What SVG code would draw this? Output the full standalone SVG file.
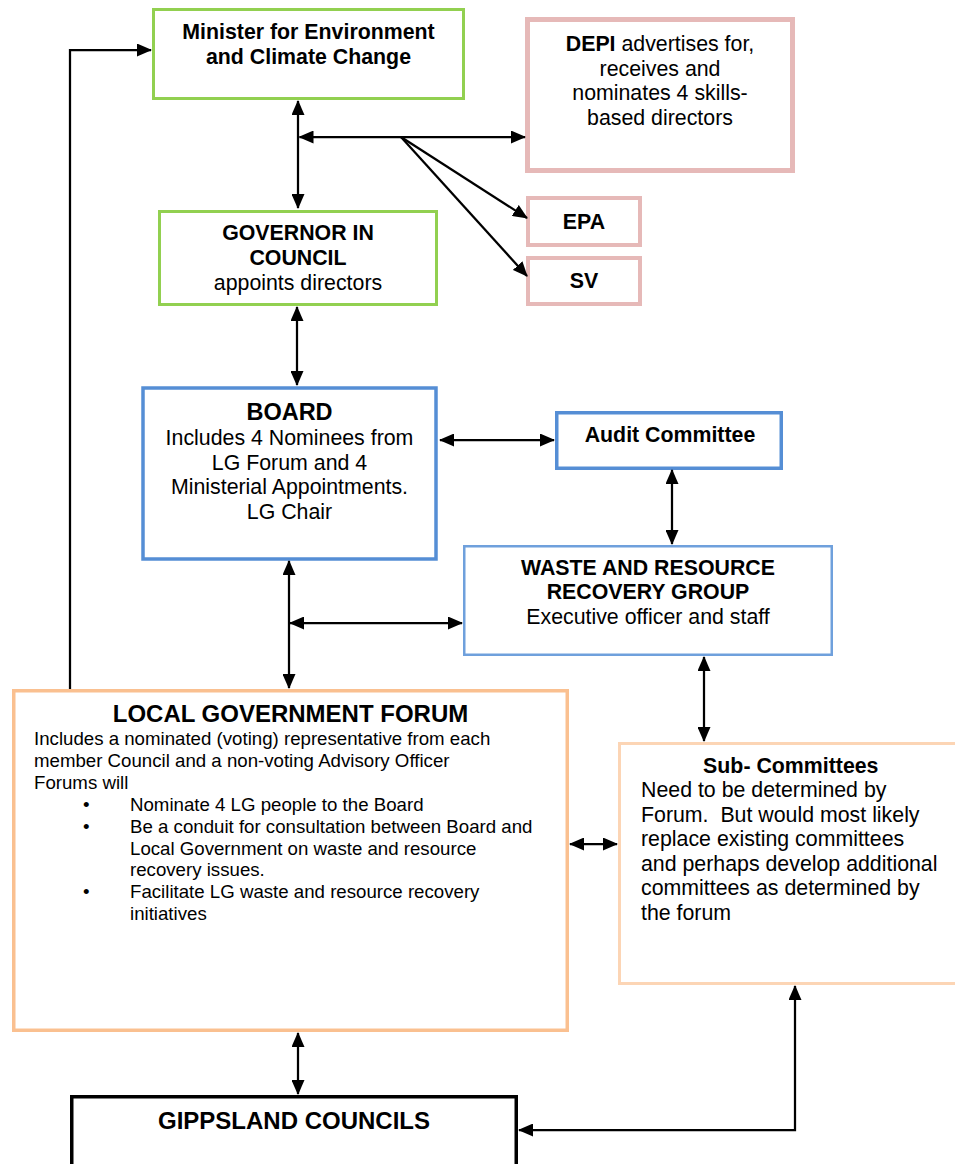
<svg xmlns="http://www.w3.org/2000/svg" width="955" height="1164" viewBox="0 0 955 1164">
<style>
text{font-family:"Liberation Sans",Arial,sans-serif;font-size:21.33px;fill:#000}
.b{font-weight:bold}
.c{text-anchor:middle}
.s{font-size:18.67px}
.box{fill:#fff}
.con{fill:none;stroke:#000;stroke-width:2.25}
</style>
<defs>
<marker id="ah" markerUnits="userSpaceOnUse" markerWidth="15" markerHeight="13" refX="14" refY="6.5" orient="auto-start-reverse">
<path d="M0,0 L15,6.5 L0,13 z" fill="#000"/>
</marker>
</defs>
<rect width="955" height="1164" fill="#fff"/>

<g id="minister">
<rect class="box" x="153.5" y="9.5" width="310" height="89" stroke="#92D050" stroke-width="3"/>
<text class="b c" x="308.5" y="39">Minister for Environment</text>
<text class="b c" x="308.5" y="64">and Climate Change</text>
</g>
<g id="depi">
<rect class="box" x="527.5" y="19.5" width="265" height="151" stroke="#E6B9B8" stroke-width="5"/>
<text class="c" x="660" y="51"><tspan class="b">DEPI</tspan> advertises for,</text>
<text class="c" x="660" y="75.5">receives and</text>
<text class="c" x="660" y="100">nominates 4 skills-</text>
<text class="c" x="660" y="124.5">based directors</text>
</g>
<g id="epa">
<rect class="box" x="528" y="198" width="112" height="47" stroke="#E6B9B8" stroke-width="4"/>
<text class="b c" x="584" y="229">EPA</text>
</g>
<g id="sv">
<rect class="box" x="528" y="258" width="112" height="46" stroke="#E6B9B8" stroke-width="4"/>
<text class="b c" x="584" y="288">SV</text>
</g>
<g id="governor">
<rect class="box" x="159.5" y="211.5" width="277" height="93" stroke="#92D050" stroke-width="3"/>
<text class="b c" x="298" y="240">GOVERNOR IN</text>
<text class="b c" x="298" y="265">COUNCIL</text>
<text class="c" x="298" y="290">appoints directors</text>
</g>
<g id="board">
<rect class="box" x="143" y="388" width="293" height="171" stroke="#558ED5" stroke-width="3.5"/>
<text class="b c" x="289.5" y="420" style="font-size:23.5px">BOARD</text>
<text class="c" x="289.5" y="445">Includes 4 Nominees from</text>
<text class="c" x="289.5" y="469.5">LG Forum and 4</text>
<text class="c" x="289.5" y="494">Ministerial Appointments.</text>
<text class="c" x="289.5" y="518.5">LG Chair</text>
</g>
<g id="audit">
<rect class="box" x="556.75" y="412.75" width="224.5" height="55.5" stroke="#558ED5" stroke-width="3.5"/>
<text class="b c" x="670" y="442">Audit Committee</text>
</g>
<g id="waste">
<rect class="box" x="464.25" y="546.25" width="367.5" height="108.5" stroke="#6FA0DC" stroke-width="2.5"/>
<text class="b c" x="648" y="575">WASTE AND RESOURCE</text>
<text class="b c" x="648" y="599">RECOVERY GROUP</text>
<text class="c" x="648" y="624">Executive officer and staff</text>
</g>
<g id="forum">
<rect class="box" x="13.75" y="690.75" width="553.5" height="339.5" stroke="#FAC090" stroke-width="3.5"/>
<text class="b c" x="290.5" y="722" style="font-size:24px">LOCAL GOVERNMENT FORUM</text>
<text class="s" x="34" y="745">Includes a nominated (voting) representative from each</text>
<text class="s" x="34" y="767">member Council and a non-voting Advisory Officer</text>
<text class="s" x="34" y="789">Forums will</text>
<text class="s" x="83" y="810.7">•</text>
<text class="s" x="130" y="810.7">Nominate 4 LG people to the Board</text>
<text class="s" x="83" y="832.6">•</text>
<text class="s" x="130" y="832.6">Be a conduit for consultation between Board and</text>
<text class="s" x="130" y="854.5">Local Government on waste and resource</text>
<text class="s" x="130" y="876.4">recovery issues.</text>
<text class="s" x="83" y="898.3">•</text>
<text class="s" x="130" y="898.3">Facilitate LG waste and resource recovery</text>
<text class="s" x="130" y="920.2">initiatives</text>
</g>
<g id="subcommittees">
<rect class="box" x="619.5" y="743.5" width="344" height="240" stroke="#FCD5B5" stroke-width="3"/>
<text class="b c" x="790.8" y="772.7">Sub- Committees</text>
<text x="641" y="797.3">Need to be determined by</text>
<text x="641" y="821.7">Forum.&#160; But would most likely</text>
<text x="641" y="846.2">replace existing committees</text>
<text x="641" y="870.7">and perhaps develop additional</text>
<text x="641" y="895.2">committees as determined by</text>
<text x="641" y="919.7">the forum</text>
</g>
<g id="gippsland">
<rect class="box" x="71.75" y="1096.75" width="444.5" height="120" stroke="#000" stroke-width="3.5"/>
<text class="b c" x="294" y="1128.5" style="font-size:24px">GIPPSLAND COUNCILS</text>
</g>

<g id="connectors">
<line class="con" x1="298" y1="101" x2="298" y2="208" marker-start="url(#ah)" marker-end="url(#ah)"/>
<line class="con" x1="299.5" y1="137" x2="525" y2="137" marker-start="url(#ah)" marker-end="url(#ah)"/>
<line class="con" x1="401" y1="137" x2="527" y2="218" marker-end="url(#ah)"/>
<line class="con" x1="401" y1="137" x2="527" y2="276" marker-end="url(#ah)"/>
<line class="con" x1="297" y1="307" x2="297" y2="385" marker-start="url(#ah)" marker-end="url(#ah)"/>
<line class="con" x1="440" y1="440" x2="554" y2="440" marker-start="url(#ah)" marker-end="url(#ah)"/>
<line class="con" x1="672" y1="470" x2="672" y2="544" marker-start="url(#ah)" marker-end="url(#ah)"/>
<line class="con" x1="289" y1="561" x2="289" y2="688" marker-start="url(#ah)" marker-end="url(#ah)"/>
<line class="con" x1="290" y1="623" x2="462" y2="623" marker-start="url(#ah)" marker-end="url(#ah)"/>
<line class="con" x1="704" y1="657" x2="704" y2="741" marker-start="url(#ah)" marker-end="url(#ah)"/>
<line class="con" x1="570" y1="844" x2="617" y2="844" marker-start="url(#ah)" marker-end="url(#ah)"/>
<path class="con" d="M70,689 V50 H151" marker-end="url(#ah)"/>
<line class="con" x1="298" y1="1033" x2="298" y2="1094" marker-start="url(#ah)" marker-end="url(#ah)"/>
<path class="con" d="M519,1130 H795 V986" marker-start="url(#ah)" marker-end="url(#ah)"/>
</g>
</svg>
